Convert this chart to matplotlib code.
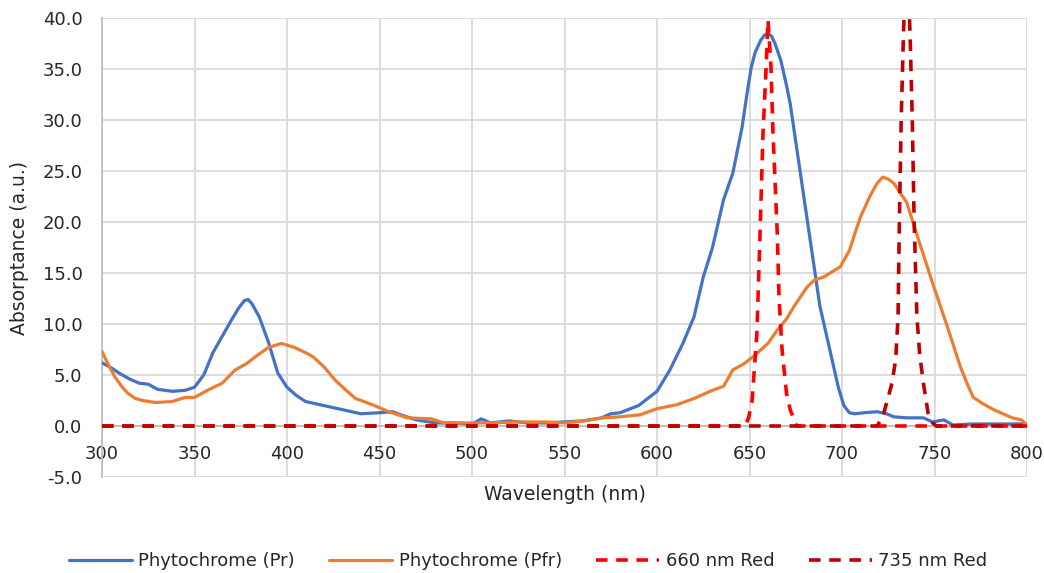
import matplotlib
matplotlib.use('Agg')
from matplotlib import pyplot as plt
from matplotlib.ticker import FormatStrFormatter

# data
pr_wl = [300, 305, 310, 315, 320, 325, 330, 338, 345, 350, 355, 360, 365, 370, 374, 377, 379, 381, 385,
         390, 395, 400, 405, 410, 415, 420, 430, 440, 450, 457, 463, 470, 480, 490, 500, 505, 510,
         520, 530, 540, 550, 560, 570, 575, 580, 590, 600, 607, 614, 620, 625, 630, 636, 641, 646,
         649, 651, 653, 656, 658, 660, 662, 664, 667, 670, 672, 677, 683, 688, 694, 698, 701, 704,
         707, 712, 719, 724, 728, 735, 744, 749, 755, 760, 770, 780, 790, 800]
pr_abs = [6.2, 5.7, 5.1, 4.6, 4.2, 4.1, 3.6, 3.4, 3.5, 3.8, 5.0, 7.2, 8.8, 10.4, 11.6, 12.3, 12.4, 12.0, 10.7,
          8.2, 5.2, 3.8, 3.0, 2.4, 2.2, 2.0, 1.6, 1.2, 1.3, 1.4, 1.0, 0.6, 0.3, 0.3, 0.2, 0.7, 0.3,
          0.5, 0.3, 0.3, 0.4, 0.5, 0.8, 1.2, 1.3, 2.0, 3.4, 5.5, 8.1, 10.7, 14.6, 17.5, 22.2, 24.8, 29.3,
          33.0, 35.2, 36.6, 37.8, 38.3, 38.5, 38.2, 37.4, 35.8, 33.4, 31.6, 25.4, 18.0, 11.8, 7.0, 3.8, 2.0, 1.3,
          1.2, 1.3, 1.4, 1.2, 0.9, 0.8, 0.8, 0.4, 0.6, 0.1, 0.2, 0.2, 0.2, 0.2]

pfr_wl = [300, 304, 307, 311, 314, 318, 322, 329, 338, 345, 350, 357, 365, 372, 378, 383, 390, 397,
          404, 410, 414, 420, 426, 432, 437, 446, 455, 465, 478, 485, 495, 510, 525, 540, 550, 560,
          571, 580, 591, 600, 611, 620, 630, 636, 641, 647, 652, 660, 665, 670, 674, 681, 685, 690, 699,
          704, 707, 710, 715, 719, 722, 725, 728, 735, 742, 749, 757, 764, 768, 771, 776, 782, 792, 797, 800]
pfr_abs = [7.3, 5.8, 4.8, 3.8, 3.2, 2.7, 2.5, 2.3, 2.4, 2.8, 2.8, 3.5, 4.2, 5.5, 6.1, 6.8, 7.7, 8.1,
           7.7, 7.2, 6.8, 5.8, 4.5, 3.5, 2.7, 2.1, 1.4, 0.8, 0.7, 0.3, 0.3, 0.3, 0.4, 0.4, 0.3, 0.5,
           0.8, 0.9, 1.1, 1.7, 2.1, 2.7, 3.5, 3.9, 5.5, 6.1, 6.8, 8.1, 9.4, 10.5, 11.7, 13.6, 14.3, 14.6, 15.6,
           17.2, 18.9, 20.5, 22.5, 23.8, 24.4, 24.2, 23.8, 21.9, 17.9, 14.0, 9.7, 5.8, 4.0, 2.8, 2.2, 1.6, 0.8, 0.6, 0.1]

red660_wl = [300, 645, 647.6, 649.5, 651.4, 654, 655.7, 657.3, 659, 660, 661.6, 662.7, 665, 666, 667.6,
             670, 672, 675.5, 800]
red660_val = [0, 0, 0, 0.8, 2.5, 9.1, 18.9, 28.7, 35.2, 39.8, 35.2, 28.7, 18.9, 12.4, 7.5,
              3.2, 1.6, 0, 0]

red735_wl = [300, 719, 722, 724.5, 727, 729, 730.3, 731, 732, 733, 734, 735, 736, 737, 738, 739,
             740.5, 742, 744, 746.5, 749, 751, 800]
red735_val = [0, 0, 0.9, 2.5, 4.2, 6.5, 10.7, 20, 30, 37, 43, 47, 43, 37, 30, 20,
              10.7, 7.0, 4.2, 1.3, 0.3, 0, 0]

x_ticks = list(range(300, 801, 50))
y_ticks = list(range(-5, 41, 5))

# style
grid_color = '#D9D9D9'
text_color = '#262626'
font_size = 13

plt.rcParams['font.family'] = ['DejaVu Sans']
fig = plt.figure(figsize=(10.44, 5.73), dpi=100)
ax = fig.add_axes([102 / 1044, 1 - 477 / 573, (1027 - 102) / 1044, (477 - 18) / 573])

ax.plot(pr_wl, pr_abs, color='#4472C4', lw=2.3, label='Phytochrome (Pr)',
        solid_joinstyle='round', solid_capstyle='round', zorder=3)
ax.plot(pfr_wl, pfr_abs, color='#ED7D31', lw=2.3, label='Phytochrome (Pfr)',
        solid_joinstyle='round', solid_capstyle='round', zorder=3)
ax.plot(red660_wl, red660_val, color='#FF0000', lw=2.6, dashes=(3.2, 2.4), label='660 nm Red', zorder=3)
ax.plot(red735_wl, red735_val, color='#C00000', lw=2.6, dashes=(3.2, 2.4), label='735 nm Red', zorder=3)

ax.set_xlim(300, 800)
ax.set_ylim(-5, 40)
ax.set_xticks(x_ticks)
ax.set_yticks(y_ticks)
ax.yaxis.set_major_formatter(FormatStrFormatter('%.1f'))
ax.grid(True, color=grid_color, lw=1.3)
ax.set_axisbelow(True)

for side in ['top', 'right']:
    ax.spines[side].set_visible(False)
ax.spines['left'].set_color('#BFBFBF')
ax.spines['left'].set_linewidth(1.3)
ax.spines['bottom'].set_position(('data', 0))
ax.spines['bottom'].set_color('#BFBFBF')
ax.spines['bottom'].set_linewidth(1.3)

ax.tick_params(axis='both', length=0, labelsize=font_size, colors=text_color)
ax.tick_params(axis='y', pad=14)
ax.tick_params(axis='x', pad=14)

fig.text(20 / 1044, 1 - 248 / 573, 'Absorptance (a.u.)', rotation=90, ha='center', va='center',
         fontsize=13.5, color=text_color)
fig.text(565 / 1044, 1 - 495 / 573, 'Wavelength (nm)', ha='center', va='center',
         fontsize=13.5, color=text_color)

fig.legend(loc='center', bbox_to_anchor=(528 / 1044, 1 - 561 / 573), ncol=4, frameon=False,
           fontsize=font_size, handlelength=3.5, columnspacing=1.9, handletextpad=0.35,
           labelcolor=text_color)

fig.savefig('out.png', dpi=100)
